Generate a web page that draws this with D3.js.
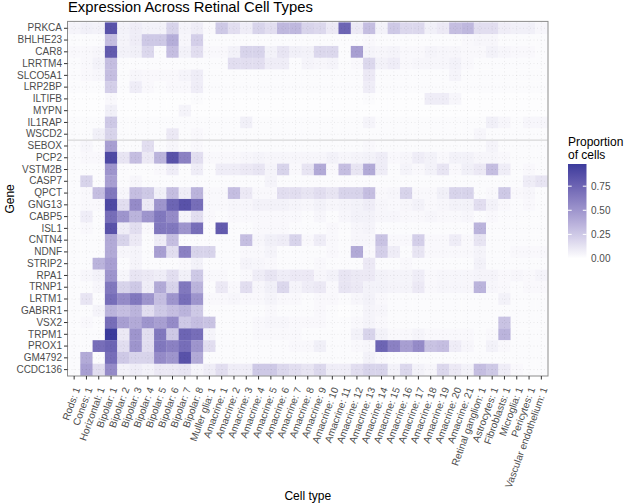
<!DOCTYPE html>
<html><head><meta charset="utf-8">
<script src="https://cdn.jsdelivr.net/npm/d3@7"></script>
<style>body{margin:0;background:#fff} text{font-family:"Liberation Sans",Arial,Helvetica,sans-serif}</style>
</head><body><svg id="chart" width="625" height="504"></svg>
<script>
const genes = ["PRKCA","BHLHE23","CAR8","LRRTM4","SLCO5A1","LRP2BP","ILTIFB","MYPN","IL1RAP","WSCD2",
  "SEBOX","PCP2","VSTM2B","CASP7","QPCT","GNG13","CABP5","ISL1","CNTN4","NDNF","STRIP2","RPA1","TRNP1",
  "LRTM1","GABRR1","VSX2","TRPM1","PROX1","GM4792","CCDC136"];
const cellTypes = ["Rods: 1","Cones: 1","Horizontal: 1","Bipolar: 1","Bipolar: 2","Bipolar: 3","Bipolar: 4",
  "Bipolar: 5","Bipolar: 6","Bipolar: 7","Bipolar: 8","Muller glia: 1","Amacrine: 1","Amacrine: 2","Amacrine: 3",
  "Amacrine: 4","Amacrine: 5","Amacrine: 6","Amacrine: 7","Amacrine: 8","Amacrine: 9","Amacrine: 10","Amacrine: 11",
  "Amacrine: 12","Amacrine: 13","Amacrine: 14","Amacrine: 15","Amacrine: 16","Amacrine: 17","Amacrine: 18",
  "Amacrine: 19","Amacrine: 20","Amacrine: 21","Retinal ganglion: 1","Astrocytes: 1","Fibroblasts: 1",
  "Microglia: 1","Pericytes: 1","Vascular endothelium: 1"];
// proportion of cells, one row per gene (same order as genes), one value per cell type
const proportion = [
 [0.05,0.07,0.06,0.85,0.06,0.08,0.06,0.06,0.2,0.05,0.08,0.03,0.25,0.15,0.08,0.2,0.15,0.33,0.33,0.2,0.18,0.1,0.75,0.1,0.3,0.06,0.25,0.18,0.18,0.07,0.1,0.3,0.33,0.15,0.15,0.08,0.07,0.07,0.04],
 [0.02,0.02,0.02,0.3,0.05,0.08,0.25,0.25,0.38,0.04,0.22,0.02,0.02,0.02,0.02,0.02,0.02,0.02,0.02,0.02,0.02,0.02,0.02,0.02,0.03,0.02,0.02,0.02,0.02,0.02,0.02,0.02,0.03,0.04,0.04,0.02,0.02,0.02,0.02],
 [0.03,0.03,0.04,0.8,0.06,0.07,0.18,0.02,0.3,0.06,0.15,0.03,0.03,0.06,0.2,0.2,0.06,0.12,0.07,0.06,0.18,0.18,0.02,0.45,0.05,0.04,0.05,0.03,0.03,0.05,0.04,0.04,0.03,0.03,0.06,0.04,0.03,0.03,0.02],
 [0.02,0.03,0.06,0.3,0.02,0.02,0.02,0.02,0.02,0.02,0.02,0.02,0.02,0.15,0.15,0.15,0.08,0.08,0.02,0.05,0.04,0.05,0.02,0.03,0.18,0.06,0.08,0.03,0.04,0.04,0.04,0.06,0.03,0.02,0.02,0.02,0.02,0.02,0.02],
 [0.02,0.03,0.04,0.3,0.02,0.04,0.03,0.03,0.03,0.05,0.08,0.02,0.02,0.02,0.02,0.02,0.02,0.02,0.02,0.02,0.02,0.02,0.02,0.02,0.1,0.02,0.02,0.02,0.02,0.02,0.02,0.05,0.02,0.02,0.02,0.02,0.02,0.02,0.02],
 [0.02,0.02,0.02,0.22,0.02,0.08,0.03,0.02,0.03,0.03,0.08,0.02,0.02,0.02,0.02,0.02,0.02,0.02,0.02,0.02,0.02,0.02,0.02,0.02,0.08,0.02,0.02,0.02,0.02,0.02,0.02,0.02,0.02,0.02,0.02,0.02,0.02,0.02,0.02],
 [0.01,0.01,0.01,0.03,0.01,0.01,0.01,0.01,0.01,0.01,0.02,0.01,0.01,0.01,0.01,0.01,0.01,0.01,0.01,0.01,0.01,0.01,0.01,0.01,0.02,0.01,0.01,0.01,0.01,0.08,0.08,0.04,0.01,0.01,0.01,0.01,0.01,0.01,0.01],
 [0.01,0.01,0.01,0.07,0.01,0.01,0.01,0.01,0.01,0.05,0.01,0.01,0.01,0.01,0.01,0.01,0.01,0.01,0.01,0.01,0.01,0.01,0.01,0.01,0.01,0.01,0.01,0.01,0.01,0.01,0.01,0.01,0.01,0.01,0.01,0.01,0.01,0.01,0.01],
 [0.02,0.02,0.02,0.25,0.02,0.02,0.02,0.02,0.02,0.02,0.02,0.02,0.02,0.02,0.07,0.02,0.02,0.02,0.02,0.02,0.02,0.02,0.02,0.02,0.05,0.02,0.02,0.02,0.02,0.02,0.02,0.02,0.02,0.02,0.07,0.04,0.02,0.04,0.04],
 [0.02,0.02,0.07,0.2,0.02,0.02,0.02,0.02,0.1,0.02,0.03,0.02,0.02,0.02,0.02,0.02,0.02,0.02,0.02,0.02,0.02,0.02,0.02,0.02,0.02,0.02,0.02,0.02,0.02,0.02,0.02,0.02,0.02,0.04,0.02,0.02,0.02,0.02,0.02],
 [0.02,0.04,0.02,0.45,0.02,0.02,0.15,0.02,0.04,0.02,0.03,0.02,0.02,0.02,0.02,0.02,0.02,0.02,0.02,0.02,0.02,0.02,0.02,0.02,0.03,0.02,0.02,0.02,0.02,0.02,0.02,0.02,0.02,0.02,0.05,0.02,0.02,0.02,0.02],
 [0.02,0.03,0.03,0.9,0.12,0.3,0.1,0.35,0.85,0.6,0.15,0.03,0.03,0.03,0.04,0.05,0.04,0.04,0.04,0.04,0.04,0.06,0.04,0.05,0.06,0.08,0.03,0.04,0.08,0.06,0.03,0.06,0.06,0.04,0.04,0.03,0.02,0.02,0.02],
 [0.02,0.02,0.02,0.5,0.02,0.02,0.02,0.03,0.08,0.02,0.08,0.02,0.08,0.08,0.1,0.12,0.05,0.2,0.03,0.12,0.4,0.03,0.3,0.12,0.4,0.08,0.02,0.05,0.03,0.06,0.12,0.03,0.07,0.1,0.3,0.08,0.02,0.03,0.02],
 [0.02,0.2,0.02,0.45,0.02,0.04,0.02,0.02,0.02,0.02,0.02,0.02,0.02,0.02,0.02,0.02,0.05,0.02,0.02,0.02,0.02,0.02,0.02,0.02,0.02,0.02,0.02,0.02,0.02,0.02,0.02,0.02,0.02,0.02,0.02,0.02,0.02,0.08,0.12],
 [0.02,0.03,0.3,0.65,0.04,0.3,0.25,0.07,0.3,0.08,0.35,0.03,0.03,0.3,0.1,0.03,0.03,0.15,0.15,0.12,0.15,0.12,0.2,0.2,0.3,0.03,0.04,0.2,0.03,0.03,0.07,0.2,0.2,0.02,0.03,0.25,0.03,0.04,0.02],
 [0.02,0.03,0.03,0.9,0.15,0.55,0.1,0.5,0.75,0.85,0.7,0.03,0.03,0.04,0.04,0.06,0.06,0.06,0.05,0.04,0.06,0.04,0.05,0.06,0.08,0.04,0.03,0.04,0.06,0.03,0.04,0.06,0.06,0.15,0.06,0.03,0.02,0.03,0.02],
 [0.02,0.08,0.02,0.7,0.5,0.35,0.5,0.65,0.55,0.05,0.15,0.03,0.02,0.03,0.03,0.03,0.03,0.03,0.03,0.02,0.04,0.02,0.04,0.06,0.06,0.04,0.04,0.03,0.03,0.04,0.03,0.03,0.04,0.02,0.03,0.02,0.02,0.02,0.02],
 [0.02,0.03,0.02,0.85,0.08,0.15,0.03,0.65,0.65,0.5,0.7,0.02,0.8,0.02,0.02,0.03,0.03,0.03,0.02,0.02,0.02,0.03,0.02,0.04,0.05,0.02,0.02,0.02,0.02,0.02,0.02,0.02,0.02,0.35,0.02,0.02,0.02,0.02,0.02],
 [0.02,0.02,0.02,0.4,0.2,0.1,0.02,0.08,0.3,0.02,0.02,0.02,0.02,0.02,0.3,0.04,0.07,0.08,0.2,0.03,0.08,0.03,0.02,0.04,0.04,0.28,0.03,0.03,0.22,0.03,0.03,0.08,0.03,0.12,0.02,0.02,0.02,0.02,0.02],
 [0.02,0.02,0.02,0.4,0.04,0.05,0.02,0.45,0.15,0.6,0.2,0.2,0.02,0.02,0.03,0.03,0.05,0.02,0.02,0.02,0.02,0.03,0.02,0.4,0.03,0.22,0.08,0.02,0.12,0.03,0.03,0.03,0.03,0.05,0.02,0.02,0.03,0.03,0.03],
 [0.02,0.02,0.35,0.45,0.02,0.05,0.02,0.02,0.02,0.03,0.06,0.02,0.02,0.02,0.05,0.04,0.03,0.02,0.02,0.02,0.03,0.02,0.02,0.02,0.1,0.02,0.02,0.03,0.02,0.02,0.02,0.02,0.02,0.06,0.02,0.02,0.02,0.02,0.02],
 [0.02,0.04,0.06,0.5,0.04,0.12,0.1,0.08,0.15,0.07,0.25,0.03,0.03,0.02,0.03,0.08,0.12,0.08,0.1,0.1,0.04,0.06,0.12,0.1,0.1,0.06,0.05,0.05,0.08,0.03,0.04,0.04,0.04,0.05,0.05,0.03,0.04,0.03,0.05],
 [0.02,0.02,0.04,0.65,0.2,0.25,0.08,0.4,0.2,0.65,0.35,0.02,0.1,0.03,0.15,0.04,0.07,0.18,0.05,0.08,0.1,0.03,0.12,0.1,0.06,0.06,0.05,0.05,0.1,0.03,0.04,0.04,0.04,0.35,0.04,0.03,0.02,0.03,0.03],
 [0.02,0.12,0.02,0.7,0.55,0.65,0.5,0.3,0.5,0.7,0.5,0.03,0.03,0.04,0.03,0.03,0.05,0.03,0.03,0.02,0.03,0.03,0.02,0.04,0.06,0.03,0.02,0.02,0.02,0.02,0.02,0.02,0.02,0.02,0.02,0.06,0.02,0.02,0.02],
 [0.02,0.02,0.05,0.35,0.3,0.35,0.15,0.25,0.3,0.35,0.25,0.02,0.02,0.02,0.02,0.02,0.03,0.02,0.02,0.02,0.03,0.02,0.01,0.02,0.05,0.04,0.02,0.02,0.02,0.02,0.02,0.02,0.02,0.02,0.02,0.02,0.02,0.02,0.02],
 [0.02,0.03,0.02,0.7,0.45,0.4,0.5,0.45,0.55,0.25,0.3,0.28,0.02,0.02,0.02,0.03,0.04,0.04,0.03,0.03,0.03,0.02,0.02,0.03,0.05,0.03,0.02,0.02,0.02,0.02,0.02,0.02,0.02,0.02,0.02,0.28,0.02,0.02,0.02],
 [0.02,0.02,0.02,0.98,0.1,0.5,0.15,0.65,0.25,0.75,0.7,0.05,0.02,0.02,0.02,0.03,0.03,0.03,0.03,0.02,0.02,0.02,0.02,0.06,0.2,0.06,0.03,0.03,0.05,0.03,0.03,0.03,0.03,0.02,0.03,0.35,0.02,0.02,0.02],
 [0.02,0.02,0.7,0.75,0.15,0.5,0.15,0.65,0.6,0.7,0.5,0.15,0.02,0.02,0.02,0.02,0.02,0.02,0.03,0.03,0.07,0.02,0.02,0.03,0.04,0.75,0.6,0.45,0.55,0.28,0.3,0.08,0.04,0.02,0.06,0.03,0.02,0.02,0.02],
 [0.02,0.4,0.02,0.7,0.25,0.2,0.2,0.55,0.5,0.85,0.4,0.02,0.02,0.02,0.02,0.02,0.02,0.02,0.02,0.02,0.02,0.02,0.02,0.02,0.06,0.03,0.02,0.02,0.02,0.02,0.02,0.02,0.02,0.02,0.02,0.02,0.02,0.02,0.02],
 [0.02,0.45,0.15,0.55,0.06,0.08,0.06,0.1,0.1,0.12,0.05,0.08,0.15,0.08,0.08,0.25,0.25,0.18,0.15,0.12,0.18,0.08,0.08,0.15,0.2,0.2,0.06,0.18,0.06,0.04,0.18,0.1,0.06,0.3,0.25,0.08,0.03,0.02,0.02]
];
const legendTicks = [0, 0.25, 0.5, 0.75];
const separatorAfter = "WSCD2";

const svg = d3.select("#chart");
const P = {left: 68, right: 547.5, top: 22.4, bottom: 375.5};
const x = d3.scaleBand().domain(cellTypes).range([P.left, P.right]);
const y = d3.scaleBand().domain(genes).range([P.top, P.bottom]);
const maxV = d3.max(proportion.flat());
const color = d3.scaleLinear().domain([0, maxV]).range(["#ffffff", "#3b3b9c"]).interpolate(d3.interpolateLab);

const cells = [];
genes.forEach((g, i) => cellTypes.forEach((c, j) => cells.push({g, c, v: proportion[i][j]})));

svg.append("rect").attr("x", P.left).attr("y", P.top).attr("width", P.right - P.left)
  .attr("height", P.bottom - P.top).attr("fill", "#fff");

svg.append("g").selectAll("rect").data(cells).join("rect")
  .attr("x", d => x(d.c)).attr("y", d => y(d.g))
  .attr("width", x.bandwidth() + 0.3).attr("height", y.bandwidth() + 0.3)
  .attr("fill", d => color(d.v));

// dotted grid
const grid = svg.append("g").attr("stroke", "rgba(0,0,0,0.13)").attr("stroke-width", 0.6)
  .attr("stroke-dasharray", "1,2.5");
grid.selectAll("line.v").data(cellTypes).join("line").attr("class", "v")
  .attr("x1", d => x(d) + x.bandwidth() / 2).attr("x2", d => x(d) + x.bandwidth() / 2)
  .attr("y1", P.top).attr("y2", P.bottom);
grid.selectAll("line.h").data(genes).join("line").attr("class", "h")
  .attr("y1", d => y(d) + y.bandwidth() / 2).attr("y2", d => y(d) + y.bandwidth() / 2)
  .attr("x1", P.left).attr("x2", P.right);

// separator
const sy = y(separatorAfter) + y.bandwidth();
svg.append("line").attr("x1", P.left).attr("x2", P.right).attr("y1", sy).attr("y2", sy)
  .attr("stroke", "#cfcfcf").attr("stroke-width", 1);

// border
svg.append("rect").attr("x", P.left - 0.5).attr("y", P.top - 1).attr("width", P.right - P.left + 1)
  .attr("height", P.bottom - P.top + 1.5).attr("fill", "none").attr("stroke", "#8c8c8c").attr("stroke-width", 1);

// axes
const yAxis = svg.append("g").attr("transform", `translate(${P.left - 0.5},0)`)
  .call(d3.axisLeft(y).tickSize(3.5).tickPadding(2));
const xAxis = svg.append("g").attr("transform", `translate(0,${P.bottom + 0.5})`)
  .call(d3.axisBottom(x).tickSize(3.5).tickPadding(2));
[yAxis, xAxis].forEach(a => {
  a.select(".domain").remove();
  a.attr("font-family", null).attr("font-size", null);
  a.selectAll(".tick line").attr("stroke", "#333").attr("stroke-width", 1);
  a.selectAll(".tick text").attr("fill", "#4d4d4d").style("font-size", "10px");
});
xAxis.selectAll(".tick text").attr("text-anchor", "end").attr("y", 0).attr("dy", "0.35em")
  .attr("transform", "translate(3,11.5) rotate(-70)");

// titles
svg.append("text").attr("x", P.left).attr("y", 12).style("font-size", "14.8px").attr("fill", "#000")
  .text("Expression Across Retinal Cell Types");
svg.append("text").attr("transform", `translate(14,${(P.top + P.bottom) / 2}) rotate(-90)`)
  .attr("text-anchor", "middle").style("font-size", "12px").text("Gene");
svg.append("text").attr("x", (P.left + P.right) / 2).attr("y", 500).attr("text-anchor", "middle")
  .style("font-size", "12px").text("Cell type");

// legend
const L = {x: 568, w: 18.5, top: 164, bottom: 258.5};
svg.append("text").attr("x", L.x).attr("y", 146).style("font-size", "12px").text("Proportion");
svg.append("text").attr("x", L.x).attr("y", 159).style("font-size", "12px").text("of cells");
const lg = svg.append("defs").append("linearGradient").attr("id", "lg")
  .attr("x1", 0).attr("y1", 1).attr("x2", 0).attr("y2", 0);
d3.range(0, 1.0001, 0.05).forEach(t => lg.append("stop").attr("offset", t).attr("stop-color", color(t * maxV)));
svg.append("rect").attr("x", L.x).attr("y", L.top).attr("width", L.w).attr("height", L.bottom - L.top)
  .attr("fill", "url(#lg)");
const ls = d3.scaleLinear().domain([0, maxV]).range([L.bottom, L.top]);
const lt = svg.append("g");
legendTicks.forEach(t => {
  lt.append("line").attr("x1", L.x).attr("x2", L.x + 3.7).attr("y1", ls(t)).attr("y2", ls(t))
    .attr("stroke", "#fff").attr("stroke-width", 1);
  lt.append("line").attr("x1", L.x + L.w - 3.7).attr("x2", L.x + L.w).attr("y1", ls(t)).attr("y2", ls(t))
    .attr("stroke", "#fff").attr("stroke-width", 1);
  lt.append("text").attr("x", L.x + L.w + 4.5).attr("y", ls(t)).attr("dy", "0.35em")
    .style("font-size", "10px").attr("fill", "#4d4d4d").text(d3.format(".2f")(t));
});
</script></body></html>
